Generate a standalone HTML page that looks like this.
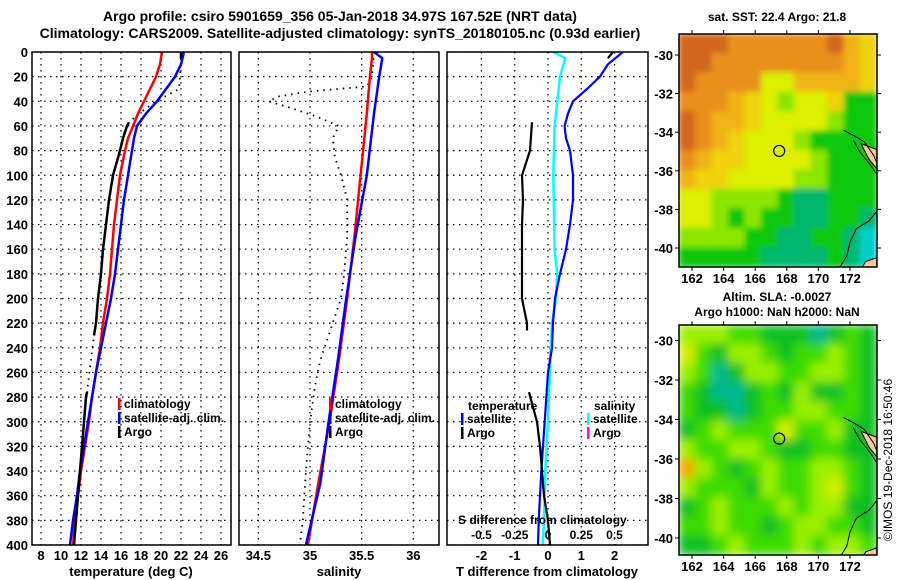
<!DOCTYPE html>
<html><head><meta charset="utf-8">
<style>
html,body{margin:0;padding:0;background:#fff;}
svg{display:block;font-family:"Liberation Sans",sans-serif;font-weight:bold;}
</style></head>
<body>
<svg id="fig" width="900" height="580" viewBox="0 0 900 580" xmlns="http://www.w3.org/2000/svg">
<defs>
<clipPath id="c1"><rect x="32" y="52" width="199" height="493"/></clipPath>
<clipPath id="c2"><rect x="239" y="52" width="200" height="493"/></clipPath>
<clipPath id="c3"><rect x="447" y="52" width="201" height="493"/></clipPath>
<clipPath id="cm1"><rect x="679" y="34" width="198" height="233"/></clipPath>
<clipPath id="cm2"><rect x="679" y="325" width="198" height="230"/></clipPath>
<filter id="blur2" x="-5%" y="-5%" width="110%" height="110%"><feGaussianBlur stdDeviation="5"/></filter>
<filter id="blur1" x="-5%" y="-5%" width="110%" height="110%"><feGaussianBlur stdDeviation="3"/></filter>
</defs>
<text x="340" y="21" font-size="14" text-anchor="middle">Argo profile: csiro 5901659_356 05-Jan-2018 34.97S 167.52E (NRT data)</text>
<text x="340" y="38" font-size="14" text-anchor="middle">Climatology: CARS2009. Satellite-adjusted climatology: synTS_20180105.nc (0.93d earlier)</text>
<g id="p1"></g>
<g id="p2"></g>
<g id="p3"></g>
<g id="m1"></g>
<g id="m2"></g>
<text x="777" y="21" font-size="12" text-anchor="middle">sat. SST: 22.4 Argo: 21.8</text>
<text x="777" y="301" font-size="12" text-anchor="middle">Altim. SLA: -0.0027</text>
<text x="777" y="316" font-size="12" text-anchor="middle">Argo h1000: NaN h2000: NaN</text>
<text transform="translate(892,460) rotate(-90)" font-size="12" font-weight="normal" text-anchor="middle">©IMOS 19-Dec-2018 16:50:46</text>
</svg>
<script>
// ---------- data ----------
const depthTicks = [0,20,40,60,80,100,120,140,160,180,200,220,240,260,280,300,320,340,360,380,400];
const tempTicks = [8,10,12,14,16,18,20,22,24,26];
const salTicks = [34.5,35,35.5,36];
const salTickLabels = ["34.5","35","35.5","36"];
const diffTicks = [-2,-1,0,1,2];
const sdiffTicks = [-0.5,-0.25,0,0.25,0.5];
const sdiffTickLabels = ["-0.5","-0.25","0","0.25","0.5"];

const climTDepth = [0,10,20,30,40,50,60,70,80,100,120,140,160,180,200,220,240,260,280,300,320,340,360,380,400];
const climT = [20.1,19.9,19.5,18.9,18.3,17.7,17.2,16.7,16.4,15.9,15.6,15.3,15.1,14.9,14.6,14.2,13.9,13.5,13.1,12.8,12.4,12.0,11.7,11.4,11.2];
const satT = [22.3,22.0,21.4,20.5,19.6,18.5,17.6,17.3,17.1,16.7,16.3,16.0,15.7,15.4,15.0,14.5,14.0,13.5,13.1,12.7,12.3,11.9,11.6,11.2,10.9];
const argoTDepth = [0,5,10,20,30,40,50,57,60,70,80,100,120,140,160,180,200,220,230,250,276,280,300,320,340,360,380,400];
const argoT = [22.0,22.0,22.0,21.9,21.8,19.5,17.8,16.8,16.6,16.2,15.9,15.2,14.8,14.5,14.2,14.0,13.7,13.5,13.3,13.0,12.6,12.5,12.3,12.1,11.9,11.7,11.5,11.3];
const argoTGood = [1,1,0,0,0,0,0,1,1,1,1,1,1,1,1,1,1,1,1,0,1,1,1,1,1,1,1,1];

const salDepth = [0,5,20,50,100,150,200,250,300,350,400];
const climS = [35.6,35.6,35.58,35.55,35.49,35.43,35.36,35.28,35.19,35.08,34.98];
const satS = [35.62,35.7,35.67,35.62,35.55,35.44,35.35,35.27,35.18,35.1,34.96];
const argoSDepth = [0,20,28,32,36,40,45,52,60,70,85,100,120,150,180,200,230,250,270,300,340,380,400];
const argoS = [35.62,35.6,35.55,35.0,34.7,34.6,34.8,35.05,35.28,35.22,35.24,35.3,35.36,35.36,35.33,35.3,35.18,35.1,35.05,35.0,34.96,34.93,34.9];

const dTDepth = [0,10,20,30,40,50,60,70,80,100,120,140,160,180,200,220,240,260,300,340,380,400];
const satDT = [2.25,1.8,1.56,1.17,0.75,0.6,0.5,0.54,0.66,0.75,0.75,0.66,0.54,0.36,0.21,0.15,0.12,0.0,-0.1,-0.2,-0.28,-0.3];
const dSDepth = [0,5,20,40,60,100,160,180,200,220,240,300,340,380,400];
const satDS = [0.04,0.13,0.09,0.07,0.05,0.04,0.05,0.07,0.06,0.03,0.02,0.0,-0.02,-0.03,-0.04];
const argoDTDepth = [0,5,null,57,80,100,120,140,160,180,200,220,226,null,276,285,300,320,340,360,380,400];
const argoDT = [1.95,1.8,null,-0.48,-0.54,-0.78,-0.75,-0.78,-0.78,-0.78,-0.78,-0.63,-0.63,null,-0.57,-0.48,-0.33,-0.24,-0.18,-0.12,0,0.06];

const mapLonTicks = [162,164,166,168,170,172];
const mapLatTicks = [-30,-32,-34,-36,-38,-40];
const argoLon = 167.52, argoLat = -34.97;
const sstGrid = [
[24,24,24,23.5,23.5,23.5,23.5,23.5,23.5,24,23,22.5],
[24,24,23.5,23.5,23.5,23.5,23.5,23.5,23.5,23.5,23,22.5],
[24,23.5,23.5,23.5,23.5,22,22,23,23,23,23,22.5],
[23.5,23.5,23.5,23,22.5,22,21.5,22,22,22.5,21,21],
[24,23.5,23,23,22.5,22,22,22,22,21.5,21,21],
[24,23.5,23,22.5,22,22,22,21.5,21,21,21,21],
[23.5,23,22.5,22.5,22,22,22,22,21.5,21,21,21],
[23,22.5,22.5,22,22,22,22,21.5,21.5,21,21,21],
[22,22,21.5,21.5,21.5,21.5,21,20.5,20.5,21,21,21],
[22,22,21.5,21,21.5,21,21,20.5,20.5,21,21,20.5],
[21.5,21.5,21.5,21.5,21,21,20.5,20.5,21,21,20.5,20],
[21,21,21,21,21,20.5,20.5,20.5,20.5,21,20.5,20]];
const slaGrid = [
[3,3,3,2,2,1,1,1,0,1,2,1],
[4,2,1,3,3,2,1,2,2,3,2,1],
[3,2,0,1,3,3,2,2,3,3,2,1],
[2,1,0,0,1,2,1,3,1,1,2,1],
[2,1,1,0,1,2,2,3,3,2,2,1],
[1,2,3,2,2,2,4,2,2,3,1,1],
[3,2,2,3,3,2,1,1,2,2,1,1],
[5,3,2,1,2,3,2,2,3,3,2,1],
[3,2,2,2,1,3,2,2,3,4,2,1],
[1,2,3,2,2,2,3,2,3,3,1,1],
[2,2,3,2,2,1,2,3,3,2,2,1],
[1,1,2,3,2,2,2,3,2,3,3,2]];

// ---------- scales ----------
const TOP=52, BOT=545;
const yD = d => TOP + d*(BOT-TOP)/400;
const xT = t => 41 + (t-8)*10;
const xS = s => 310 + (s-35)*103.3;
const xDT = d => 548 + d*33.3;
const xDS = s => 548 + s*133;
const m1x = lon => 692 + (lon-162)*15.8;
const m1y = lat => 55 + (-30-lat)*19.3;
const m2x = lon => 692 + (lon-162)*15.8;
const m2y = lat => 340.5 + (-30-lat)*19.75;

const NS='http://www.w3.org/2000/svg';
function mk(tag, attrs, parent){const e=document.createElementNS(NS,tag);for(const k in attrs)e.setAttribute(k,attrs[k]);if(parent)parent.appendChild(e);return e;}
function txt(parent,x,y,s,size,anchor){const t=mk('text',{x:x,y:y,'font-size':size,'text-anchor':anchor||'middle'},parent);t.textContent=s;return t;}
function pathFrom(xs, ys){let d='',pen=false;for(let i=0;i<xs.length;i++){if(xs[i]===null||ys[i]===null){pen=false;continue;}d+=(pen?'L':'M')+xs[i].toFixed(1)+','+ys[i].toFixed(1);pen=true;}return d;}

function frame(g,x0,x1,vticks,xf,clip){
  const gg=mk('g',{'clip-path':'url(#'+clip+')'},g);
  depthTicks.forEach(d=>{const l=mk('line',{x1:x0,x2:x1,y1:yD(d),y2:yD(d),stroke:'#000','stroke-width':1.2,'stroke-dasharray':'1.5,4.5'},gg);
    
    });
  vticks.forEach(v=>{const l=mk('line',{x1:xf(v),x2:xf(v),y1:TOP,y2:BOT,stroke:'#000','stroke-width':1.2,'stroke-dasharray':'1.5,4.5'},gg);
    
    });
  const r=mk('rect',{x:x0,y:TOP,width:x1-x0,height:BOT-TOP,fill:'none',stroke:'#000','stroke-width':1.5},g);
  
  
  return gg;
}
function line(g,d,color,w,dash,name){const p=mk('path',{d:d,fill:'none',stroke:color,'stroke-width':w,'stroke-linejoin':'round'},g);if(dash)p.setAttribute('stroke-dasharray',dash);
  
  return p;}
function legend(g,x,y,color,label,name){
  const t=mk('rect',{x:x,y:y-9,width:2.5,height:12,fill:color},g);
  
  
  const s=txt(g,x+6,y+1,label,12,'start');
  
  
}

// ---------- panel 1 ----------
const p1=document.getElementById('p1');
const c1=frame(p1,32,231,tempTicks,xT,'c1');
depthTicks.forEach(d=>{const t=txt(p1,28,yD(d)+5,String(d),13,'end');
  
  });
tempTicks.forEach(v=>{const t=txt(p1,xT(v),560,String(v),13);
  
  });
{const t=txt(p1,131,576,'temperature (deg C)',13);}
line(c1,pathFrom(argoT.map(xT),argoTDepth.map(yD)),'#000',1.8,'1.5,5','argo-temperature-dotted');
line(c1,pathFrom(climT.map(xT),climTDepth.map(yD)),'#f00',2.5,null,'climatology-temperature-line');
line(c1,pathFrom(satT.map(xT),climTDepth.map(yD)),'#00f',2.5,null,'satellite-temperature-line');
{let xs=[],ys=[];for(let i=0;i<argoT.length;i++){const ok=argoTGood[i]&&(argoTGood[i-1]||argoTGood[i+1]);xs.push(ok?xT(argoT[i]):null);ys.push(ok?yD(argoTDepth[i]):null);}
 line(c1,pathFrom(xs,ys),'#000',2.5,null,'argo-temperature-line');}
legend(p1,118,407,'#f00','climatology','legend-climatology');
legend(p1,118,421,'#00f','satellite-adj. clim.','legend-satellite');
legend(p1,118,435,'#000','Argo','legend-argo');

// ---------- panel 2 ----------
const p2=document.getElementById('p2');
const c2=frame(p2,239,439,salTicks,xS,'c2');
salTicks.forEach((v,i)=>{const t=txt(p2,xS(v),560,salTickLabels[i],13);
  
  });
{const t=txt(p2,339,576,'salinity',13);}
line(c2,pathFrom(argoS.map(xS),argoSDepth.map(yD)),'#000',1.8,'1.5,5','argo-salinity-dotted');
line(c2,pathFrom(climS.map(xS),salDepth.map(yD)),'#f00',2.5,null,'climatology-salinity-line');
line(c2,pathFrom(satS.map(xS),salDepth.map(yD)),'#00f',2.5,null,'satellite-salinity-line');
legend(p2,329,407,'#f00','climatology','legend-climatology');
legend(p2,329,421,'#00f','satellite-adj. clim.','legend-satellite');
legend(p2,329,435,'#000','Argo','legend-argo');

// ---------- panel 3 ----------
const p3=document.getElementById('p3');
const c3=frame(p3,447,648,diffTicks,xDT,'c3');
diffTicks.forEach(v=>{const t=txt(p3,xDT(v),560,String(v),13);
  
  });
{const t=txt(p3,547,576,'T difference from climatology',13);}
line(c3,pathFrom(satDS.map(xDS),dSDepth.map(yD)),'#0ff',2.5,null,'satellite-salinity-difference-line');
line(c3,pathFrom(satDT.map(xDT),dTDepth.map(yD)),'#00f',2.2,null,'satellite-temperature-difference-line');
line(c3,pathFrom(argoDT.map(v=>v===null?null:xDT(v)),argoDTDepth.map(d=>d===null?null:yD(d))),'#000',2.2,null,'argo-temperature-difference-line');
{const t=txt(p3,468,410,'temperature',12,'start');}
legend(p3,461,422,'#00f','satellite','legend-temperature-satellite');
legend(p3,461,436,'#000','Argo','legend-temperature-argo');
{const t=txt(p3,594,410,'salinity',12,'start');}
legend(p3,587,422,'#0ff','satellite','legend-salinity-satellite');
legend(p3,587,436,'#f0f','Argo','legend-salinity-argo');
{const t=txt(p3,458,524,'S difference from climatology',12,'start');}
sdiffTicks.forEach((v,i)=>{const t=txt(p3,xDS(v),539,sdiffTickLabels[i],12);
  
  });

// ---------- maps ----------
function sstColor(v){
  if(v>=24) return '#d2661a';
  if(v>=23.5) return '#e8901a';
  if(v>=23) return '#f0b414';
  if(v>=22.5) return '#f0d20a';
  if(v>=22) return '#dcf000';
  if(v>=21.5) return '#8ce600';
  if(v>=21) return '#10c810';
  if(v>=20.5) return '#00b870';
  return '#00d0c8';
}
const slaColors=['#00b88c','#10c020','#3cdc00','#9cf000','#d8f000','#f0a800'];
function drawMap(gid,clip,top,bottom,xf,yf,grid,colorOf,blurId,nameCell){
  const g=document.getElementById(gid);
  const gc=mk('g',{'clip-path':'url(#'+clip+')'},g);
  const gb=mk('g',{filter:'url(#'+blurId+')'},gc);
  const rows=grid.length, cols=grid[0].length;
  const cw=(877-679)/cols, ch=(bottom-top)/rows;
  grid.forEach((row,r)=>row.forEach((v,c)=>{
    const cell=mk('rect',{x:679+c*cw-0.5,y:top+r*ch-0.5,width:cw+1,height:ch+1,fill:colorOf(v)},gb);
    
    
  }));
  const land=mk('path',{d:`M${xf(172.7)},${yf(-34.6)} L${xf(173.7)},${yf(-34.9)} L${xf(173.7)},${yf(-35.9)} L${xf(173.2)},${yf(-35.4)} Z M${xf(172.6)},${yf(-41.2)} L${xf(173.0)},${yf(-40.7)} L${xf(173.7)},${yf(-40.5)} L${xf(173.7)},${yf(-41.2)} Z`,fill:'#f8c8a0',stroke:'#000','stroke-width':1},gc);
  
  
  const coast=mk('path',{d:`M${xf(171.6)},${yf(-33.9)} L${xf(172.3)},${yf(-34.2)} L${xf(172.9)},${yf(-34.5)} L${xf(173.5)},${yf(-35.2)} L${xf(173.7)},${yf(-35.6)} M${xf(172.2)},${yf(-34.4)} L${xf(172.6)},${yf(-35.0)} L${xf(173.3)},${yf(-35.7)} L${xf(173.7)},${yf(-36.2)} M${xf(173.7)},${yf(-38.1)} L${xf(173.2)},${yf(-38.6)} L${xf(172.4)},${yf(-39.0)} L${xf(172.0)},${yf(-39.7)} L${xf(171.8)},${yf(-40.4)} L${xf(171.2)},${yf(-41.2)}`,fill:'none',stroke:'#000','stroke-width':1},gc);
  
  
  const circ=mk('circle',{cx:xf(argoLon),cy:yf(argoLat),r:5.5,fill:'none',stroke:'#000','stroke-width':1.2},g);
  
  
  const fr=mk('rect',{x:679,y:top,width:198,height:bottom-top,fill:'none',stroke:'#000','stroke-width':1.5},g);
  
  
  mapLonTicks.forEach(v=>{
    mk('line',{x1:xf(v),x2:xf(v),y1:top,y2:top-4,stroke:'#000'},g);
    mk('line',{x1:xf(v),x2:xf(v),y1:bottom,y2:bottom+4,stroke:'#000'},g);
    const t=txt(g,xf(v),bottom+16,String(v),13);
    
    
  });
  mapLatTicks.forEach(v=>{
    mk('line',{x1:679,x2:675,y1:yf(v),y2:yf(v),stroke:'#000'},g);
    mk('line',{x1:877,x2:881,y1:yf(v),y2:yf(v),stroke:'#000'},g);
    const t=txt(g,673,yf(v)+5,String(v),13,'end');
    
    
  });
}
drawMap('m1','cm1',34,267,m1x,m1y,sstGrid,sstColor,'blur1','sst-cell');
drawMap('m2','cm2',325,555,m2x,m2y,slaGrid,v=>slaColors[v],'blur2','sla-cell');
</script>
</body></html>
